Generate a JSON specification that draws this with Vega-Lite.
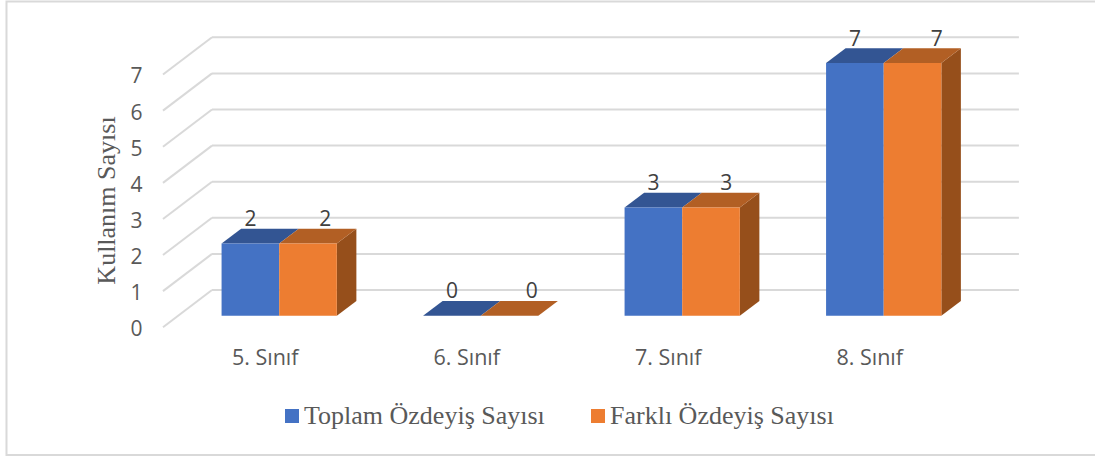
{
"$schema":"https://vega.github.io/schema/vega-lite/v6.json",
"width":1095,"height":456,"autosize":"none","padding":0,
"background":"white",
"config":{"view":{"stroke":null}},
"datasets":{
"bars":[
{"category":"5. Sınıf","series":"Toplam Özdeyiş Sayısı","value":2},
{"category":"5. Sınıf","series":"Farklı Özdeyiş Sayısı","value":2},
{"category":"6. Sınıf","series":"Toplam Özdeyiş Sayısı","value":0},
{"category":"6. Sınıf","series":"Farklı Özdeyiş Sayısı","value":0},
{"category":"7. Sınıf","series":"Toplam Özdeyiş Sayısı","value":3},
{"category":"7. Sınıf","series":"Farklı Özdeyiş Sayısı","value":3},
{"category":"8. Sınıf","series":"Toplam Özdeyiş Sayısı","value":7},
{"category":"8. Sınıf","series":"Farklı Özdeyiş Sayısı","value":7}
],
"levels":[{"level":0},{"level":1},{"level":2},{"level":3},{"level":4},{"level":5},{"level":6},{"level":7}]
},
"data":{"name":"bars"},
"transform":[
{"calculate":"indexof(['5. Sınıf','6. Sınıf','7. Sınıf','8. Sınıf'],datum.category)","as":"i"},
{"calculate":"datum.series==='Toplam Özdeyiş Sayısı'?0:1","as":"s"},
{"calculate":"datum.i+(datum.s-1)*0.286","as":"x0"},
{"calculate":"datum.x0+0.286","as":"x1"},
{"calculate":"datum.x0+0.143+(datum.s==1?[0.085,0.11,0.075,0.12][datum.i]:0)","as":"lx"},
{"calculate":"datum.value+0.65","as":"ly"},
{"calculate":"[0,1]","as":"t"},
{"flatten":["t"]},
{"calculate":"datum.t*0.097","as":"dx"},
{"calculate":"datum.t*0.407","as":"dy"},
{"calculate":"datum.value+datum.dy","as":"ty"},
{"calculate":"datum.x0+datum.dx","as":"ta"},
{"calculate":"datum.x1+datum.dx","as":"tb"}
],
"encoding":{},
"layer":[
{"data":{"name":"levels"},"transform":[
{"calculate":"datum.level-0.32","as":"f"},{"calculate":"datum.level+0.712","as":"b"}],
"mark":{"type":"rule","color":"#d9d9d9","strokeWidth":2},
"encoding":{"x":{"datum":-0.5767,"type":"quantitative","scale":{"domain":[-1.3856,4.0486],"range":[0,1095],"nice":false,"zero":false},
"axis":{"orient":"bottom","offset":-111,"values":[0,1,2,3],"labelExpr":"['5. Sınıf','6. Sınıf','7. Sınıf','8. Sınıf'][datum.value]","labelOffset":-14.5,"labelPadding":2,"domain":false,"ticks":false,"grid":false,"title":null,"labelFont":"Open Sans","labelFontSize":21.5,"labelColor":"#595959"}},
"x2":{"datum":-0.3335},
"y":{"field":"f","type":"quantitative","scale":{"domain":[-3.886,8.745],"range":[456,0],"nice":false,"zero":false},
"axis":{"orient":"left","offset":-145,"values":[0,1,2,3,4,5,6,7],"labelOffset":14,"labelPadding":3,"domain":false,"ticks":false,"grid":false,"labelFont":"Open Sans","labelFontSize":21,"labelColor":"#595959","title":"Kullanım Sayısı","titleFont":"Liberation Serif","titleFontSize":26,"titleFontWeight":"normal","titleColor":"#595959","titleX":-39,"titleY":200,"titleAngle":-90,"titleAlign":"center","titleBaseline":"middle"}},
"y2":{"field":"b"}}},
{"data":{"name":"levels"},"transform":[{"calculate":"datum.level+0.712","as":"b"}],
"mark":{"type":"rule","color":"#d9d9d9","strokeWidth":2},
"encoding":{"x":{"datum":-0.3335,"type":"quantitative"},"x2":{"datum":3.671},"y":{"field":"b","type":"quantitative"}}},
{"data":{"values":[{"frame":"chart area"}]},
"mark":{"type":"rect","fill":"transparent","stroke":"#d9d9d9","strokeWidth":2},
"encoding":{"x":{"datum":-1.3534,"type":"quantitative"},"x2":{"datum":4.1},"y":{"datum":8.704,"type":"quantitative"},"y2":{"datum":-3.856}}},
{"transform":[{"filter":"datum.s==1"}],"mark":{"type":"area","orient":"vertical","color":"#964F1B"},
"encoding":{"x":{"field":"tb","type":"quantitative"},"y":{"field":"ty","type":"quantitative"},"y2":{"field":"dy"},"detail":{"field":"category"}}},
{"transform":[{"filter":"datum.s==0"}],"mark":{"type":"area","orient":"horizontal","color":"#335593"},
"encoding":{"y":{"field":"ty","type":"quantitative"},"x":{"field":"ta","type":"quantitative"},"x2":{"field":"tb"},"detail":{"field":"category"}}},
{"transform":[{"filter":"datum.s==1"}],"mark":{"type":"area","orient":"horizontal","color":"#B25F24"},
"encoding":{"y":{"field":"ty","type":"quantitative"},"x":{"field":"ta","type":"quantitative"},"x2":{"field":"tb"},"detail":{"field":"category"}}},
{"transform":[{"filter":"datum.t==0"}],
"mark":{"type":"rect"},
"encoding":{"x":{"field":"x0","type":"quantitative"},"x2":{"field":"x1"},"y":{"field":"value","type":"quantitative"},"y2":{"datum":0},
"color":{"field":"series","type":"nominal","sort":["Toplam Özdeyiş Sayısı","Farklı Özdeyiş Sayısı"],"scale":{"domain":["Toplam Özdeyiş Sayısı","Farklı Özdeyiş Sayısı"],"range":["#4472C4","#ED7D31"]},
"legend":{"orient":"none","legendX":279,"legendY":403,"direction":"horizontal","title":null,"symbolType":"square","symbolSize":196,"symbolStrokeWidth":0,"symbolOpacity":1,"labelFont":"Liberation Serif","labelFontSize":26,"labelColor":"#595959","labelLimit":400,"columnPadding":40,"labelOffset":-1}}}},
{"transform":[{"filter":"datum.t==0"}],
"mark":{"type":"text","font":"Open Sans","fontSize":21,"color":"#404040","align":"center","baseline":"middle"},
"encoding":{"x":{"field":"lx","type":"quantitative"},"y":{"field":"ly","type":"quantitative"},"text":{"field":"value","type":"quantitative"}}}
]
}
